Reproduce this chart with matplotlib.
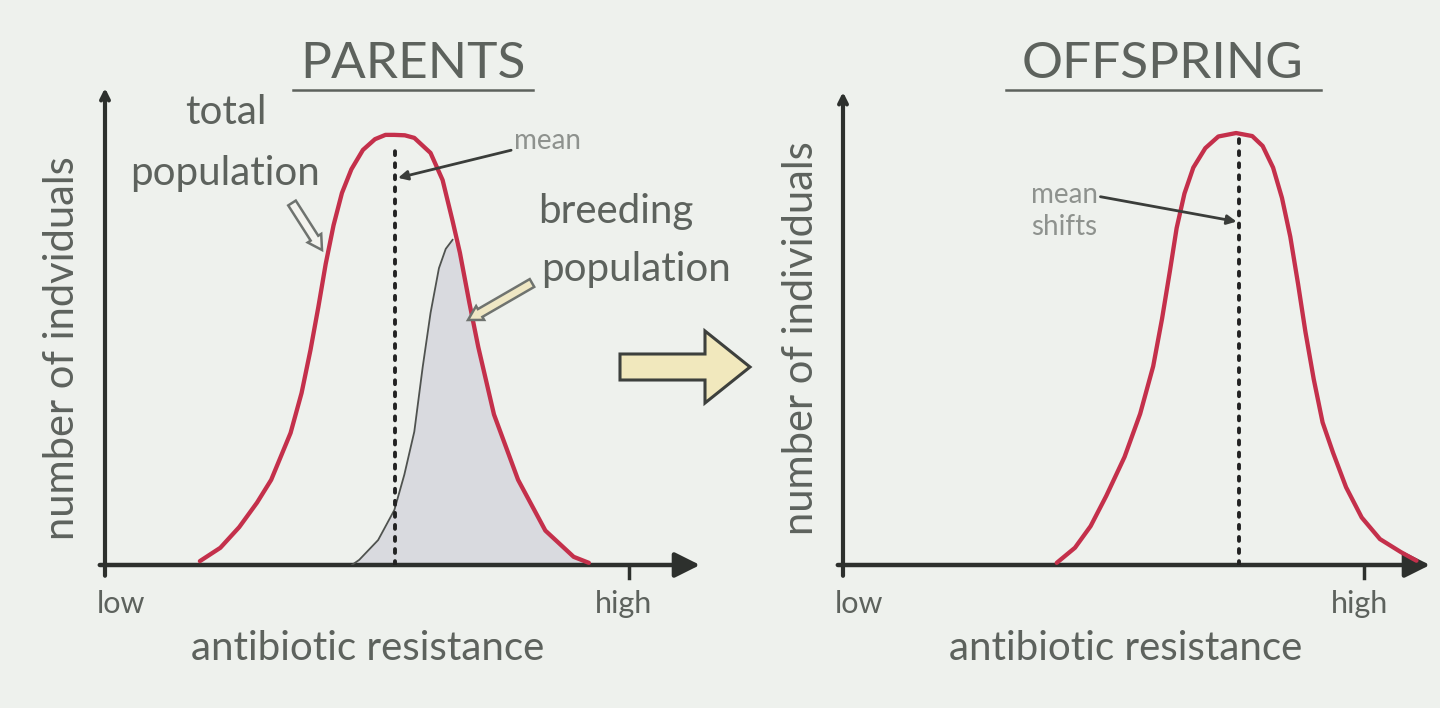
import matplotlib
matplotlib.use('Agg')
import matplotlib.pyplot as plt
from matplotlib.patches import FancyArrow
from matplotlib.lines import Line2D

# ---- data (x: low=0 .. high=10, y: peak = 100) ----
parent_x = [1.81, 2.2, 2.56, 2.9, 3.17, 3.54, 3.75, 3.92, 4.07, 4.21, 4.36, 4.52, 4.7,
            4.92, 5.15, 5.35, 5.52, 5.72, 5.9, 6.21, 6.44, 6.63, 6.77, 6.95, 7.12,
            7.42, 7.88, 8.4, 8.94, 9.23]
parent_y = [0.9, 4.0, 8.8, 14.5, 19.8, 30.7, 40, 50, 60, 70, 79, 86.5, 92,
            96.5, 99, 100, 100, 99.9, 99.3, 95.8, 89.5, 80, 72.6, 61, 50.7,
            35, 19.8, 8, 1.9, 0.5]

breeding_x = [4.71, 4.85, 5.21, 5.52, 5.71, 5.9, 6.06, 6.21, 6.37, 6.5, 6.63,
              6.77, 6.95, 7.12, 7.42, 7.88, 8.4, 8.94, 9.23]
breeding_y = [0, 1.2, 5.8, 12.8, 21, 31, 46, 58.6, 69, 73.5, 75.6,
              72.6, 61, 50.7, 35, 19.8, 8, 1.9, 0.5]

offspring_x = [4.1, 4.45, 4.75, 5.05, 5.4, 5.7, 5.95, 6.12, 6.27, 6.4, 6.55, 6.72,
               6.95, 7.2, 7.54, 7.85, 8.05, 8.25, 8.42, 8.58, 8.73, 8.87, 9.03,
               9.2, 9.4, 9.65, 9.95, 10.3, 10.7, 11.0]
offspring_y = [0.5, 4, 9, 16, 25, 35, 46, 57, 68, 78, 86, 92,
               96.5, 99.2, 100, 99.3, 97, 92, 85, 76, 65, 54, 43,
               33, 26, 18, 11, 6, 3, 1]

parent_mean = 5.54
offspring_mean = 7.6
tick_labels = ['low', 'high']
tick_pos = [0, 10]

# ---- styles ----
bg = '#eef1ed'
red = '#c4304b'
axis_col = '#2d302d'
text_col = '#5d625d'
light_text = '#8e928e'
font = ['Lato', 'DejaVu Sans']
fw = 'normal'

fig = plt.figure(figsize=(14.4, 7.08), dpi=100, facecolor=bg)
W, H = 1440, 708


def px_axes(left, right, bottom, top):
    return fig.add_axes([left / W, (H - bottom) / H, (right - left) / W, (bottom - top) / H])


def draw_panel(ax, xmax, ymax):
    ax.set_facecolor('none')
    ax.set_xlim(0, xmax)
    ax.set_ylim(0, ymax)
    ax.axis('off')
    # axes drawn as arrows
    ax.annotate('', xy=(xmax, 0), xytext=(-0.1, 0),
                arrowprops=dict(arrowstyle='-|>', lw=3.2, color=axis_col, mutation_scale=38,
                                shrinkA=0, shrinkB=0), annotation_clip=False)
    ax.annotate('', xy=(0, ymax), xytext=(0, -2.5),
                arrowprops=dict(arrowstyle='->', lw=3.0, color=axis_col, mutation_scale=14,
                                shrinkA=0, shrinkB=0), annotation_clip=False)
    # "high" tick
    ax.plot([tick_pos[1], tick_pos[1]], [0, -3], color=axis_col, lw=2.5, clip_on=False)
    ax.text(tick_pos[0] + 0.3, -9, tick_labels[0], ha='center', va='center',
            fontsize=22, color=text_col, family=font, weight=fw)
    ax.text(tick_pos[1] - 0.1, -9, tick_labels[1], ha='center', va='center',
            fontsize=22, color=text_col, family=font, weight=fw)


# ---- PARENTS ----
ax1 = px_axes(105, 700, 565, 88)
draw_panel(ax1, 11.35, 110.9)
ax1.fill_between(breeding_x, breeding_y, color='#d9dadf', zorder=2, lw=0)
ax1.plot(breeding_x[:11], breeding_y[:11], color='#4f524f', lw=1.3, zorder=3)
ax1.plot(parent_x, parent_y, color=red, lw=3.1, zorder=4,
         solid_capstyle='round', solid_joinstyle='round')
ax1.plot([parent_mean, parent_mean], [0, 97], color='#222222', lw=2.8,
         linestyle=(0, (1, 2.1)), dash_capstyle='round', zorder=5)
ax1.annotate('mean', xy=(parent_mean + 0.05, 90), xytext=(7.8, 98.5),
             fontsize=20, color=light_text, family=font, weight=fw, ha='left', va='center',
             arrowprops=dict(arrowstyle='-|>', color='#3a3d3a', lw=2, mutation_scale=14,
                             shrinkA=0, shrinkB=0), zorder=6)

# ---- OFFSPRING ----
ax2 = px_axes(843, 1430, 565, 92)
draw_panel(ax2, 11.26, 109.5)
ax2.plot(offspring_x, offspring_y, color=red, lw=3.1, zorder=4,
         solid_capstyle='round', solid_joinstyle='round')
ax2.plot([offspring_mean, offspring_mean], [0, 99], color='#222222', lw=2.8,
         linestyle=(0, (1, 2.1)), dash_capstyle='round', zorder=5)
ax2.annotate('mean\nshifts', xy=(offspring_mean - 0.05, 79.5), xytext=(3.6, 82),
             fontsize=20, color=light_text, family=font, weight=fw, ha='left', va='center',
             linespacing=1.3,
             arrowprops=dict(arrowstyle='-|>', color='#3a3d3a', lw=2, mutation_scale=14,
                             shrinkA=0, shrinkB=0, relpos=(1.0, 0.75)), zorder=6)

# ---- overlay in pixel coordinates for labels and hollow arrows ----
ov = fig.add_axes([0, 0, 1, 1], facecolor='none')
ov.set_xlim(0, W)
ov.set_ylim(H, 0)
ov.axis('off')

for txt, cx, x0, x1 in [('PARENTS', 413, 293, 533), ('OFFSPRING', 1163, 1006, 1321)]:
    ov.text(cx, 64, txt, ha='center', va='center', fontsize=37, color=text_col,
            family=font, weight=fw)
    ov.add_line(Line2D([x0, x1], [90, 90], color=text_col, lw=1.8))

lab = dict(ha='center', va='center', color=text_col, family=font, weight=fw)
ov.text(368, 648, 'antibiotic resistance', fontsize=29, **lab)
ov.text(1126, 648, 'antibiotic resistance', fontsize=29, **lab)
ov.text(62, 348, 'number of indviduals', rotation=90, fontsize=30, **lab)
ov.text(801, 338, 'number of individuals', rotation=90, fontsize=30, **lab)

ov.text(226, 112, 'total', fontsize=29, **lab)
ov.text(225, 173, 'population', fontsize=29, **lab)
ov.text(616, 212, 'breeding', fontsize=29, **lab)
ov.text(636, 270, 'population', fontsize=29, **lab)

ov.add_patch(FancyArrow(292, 203, 30, 47, width=9, head_width=16, head_length=14,
                        length_includes_head=True, facecolor='#f3f3ee', edgecolor='#6f736f',
                        lw=1.8, zorder=7))
ov.add_patch(FancyArrow(532, 283, -64, 37, width=9, head_width=16, head_length=14,
                        length_includes_head=True, facecolor='#efe7c4', edgecolor='#6f736f',
                        lw=1.8, zorder=7))
ov.add_patch(FancyArrow(620, 367, 130, 0, width=26, head_width=72, head_length=45,
                        length_includes_head=True, facecolor='#f1e8bd', edgecolor='#3d403d',
                        lw=2.2, zorder=7))

fig.savefig('out.png', dpi=100, facecolor=bg)
